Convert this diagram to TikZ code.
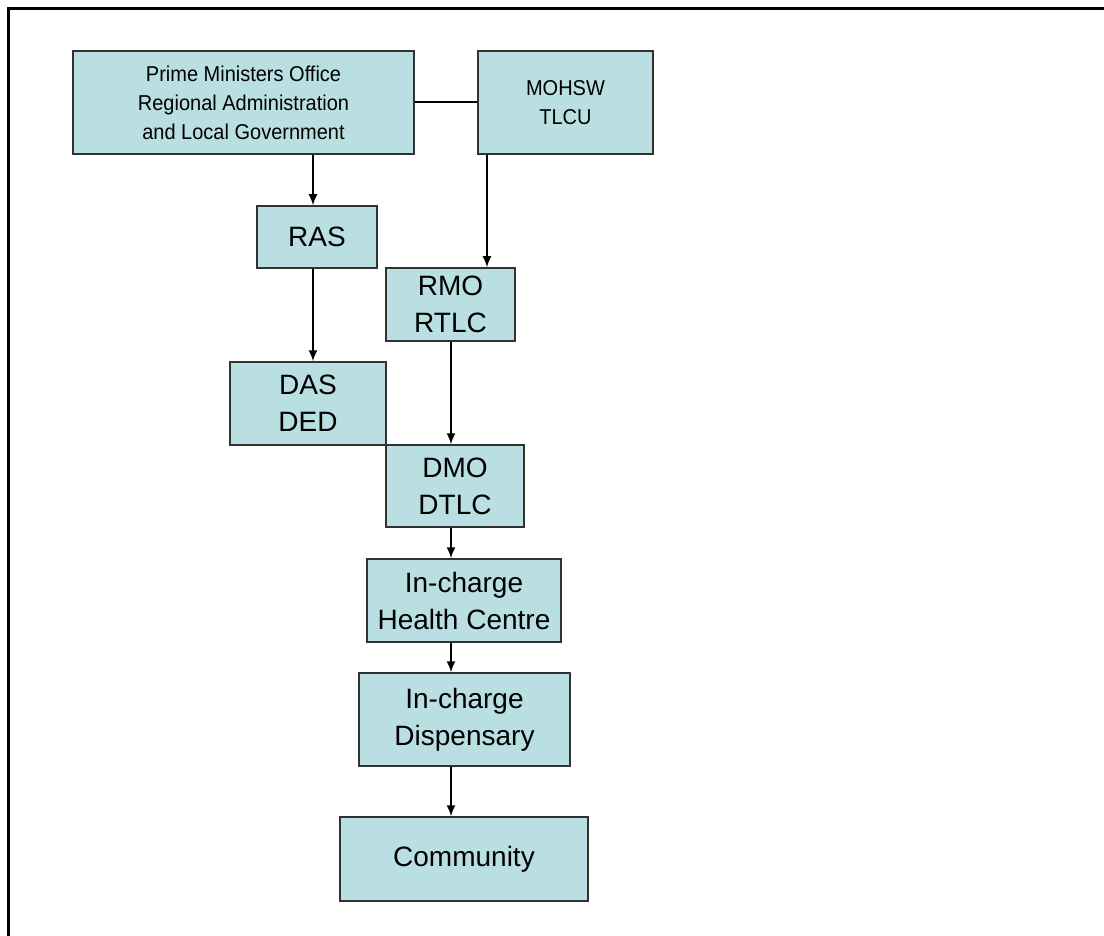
\documentclass[tikz,border=0pt]{standalone}
\usepackage{fontspec}
\setmainfont{Liberation Sans}
\newfontfamily\narrowfont[FakeStretch=0.93]{Liberation Sans}
\usetikzlibrary{arrows.meta}
\definecolor{boxfill}{RGB}{186,223,227}
\definecolor{boxline}{RGB}{50,50,50}
\begin{document}
\begin{tikzpicture}[x=1pt,y=-1pt,
  box/.style={draw=boxline, fill=boxfill, line width=1.5pt, inner sep=0pt, align=center,
    font=\fontsize{28}{37}\selectfont},
  smallbox/.style={box, font=\narrowfont\fontsize{21.5}{29}\selectfont},
  arr/.style={-{Latex[length=11pt,width=9pt]}, line width=1.7pt},
  link/.style={line width=2pt},
  frame/.style={line width=3pt}]
\useasboundingbox (0,0) rectangle (1104,936);
% frame (only top and left edges visible)
\coordinate (fbl) at (8,940);
\coordinate (ftl) at (8,9);
\coordinate (ftr) at (1110,9);
\draw[frame] (fbl) -- (ftl) -- (ftr);
% nodes
\node[smallbox, minimum width=341pt, minimum height=103pt] (pmo) at (243.5,102.5)
  {Prime Ministers Office\\Regional Administration\\and Local Government};
\node[smallbox, minimum width=175pt, minimum height=103pt] (mohsw) at (565.5,102.5)
  {MOHSW\\TLCU};
\node[box, minimum width=120pt, minimum height=62pt] (ras) at (317,237) {RAS};
\node[box, minimum width=129pt, minimum height=73pt] (rmo) at (450.5,304.5) {RMO\\RTLC};
\node[box, minimum width=156pt, minimum height=83pt] (das) at (308,403.5) {DAS\\DED};
\node[box, minimum width=138pt, minimum height=82pt] (dmo) at (455,486) {DMO\\DTLC};
\node[box, minimum width=194pt, minimum height=83pt] (hc) at (464,600.5) {In-charge\\Health Centre};
\node[box, minimum width=211pt, minimum height=93pt] (disp) at (464.5,719.5) {In-charge\\Dispensary};
\node[box, minimum width=248pt, minimum height=84pt] (comm) at (464,859) {Community};
% connector x positions
\coordinate (xa) at (313,0);
\coordinate (xb) at (487,0);
\coordinate (xc) at (451,0);
\coordinate (xd) at (451,0);
% connectors
\draw[link] (pmo.east) -- (mohsw.west |- pmo.east);
\draw[arr] (pmo.south -| xa) -- (ras.north -| xa);
\draw[arr] (mohsw.south -| xb) -- (rmo.north -| xb);
\draw[arr] (ras.south -| xa) -- (das.north -| xa);
\draw[arr] (rmo.south -| xc) -- (dmo.north -| xc);
\draw[arr] (dmo.south -| xd) -- (hc.north -| xd);
\draw[arr] (hc.south -| xd) -- (disp.north -| xd);
\draw[arr] (disp.south -| xd) -- (comm.north -| xd);
\end{tikzpicture}
\end{document}
